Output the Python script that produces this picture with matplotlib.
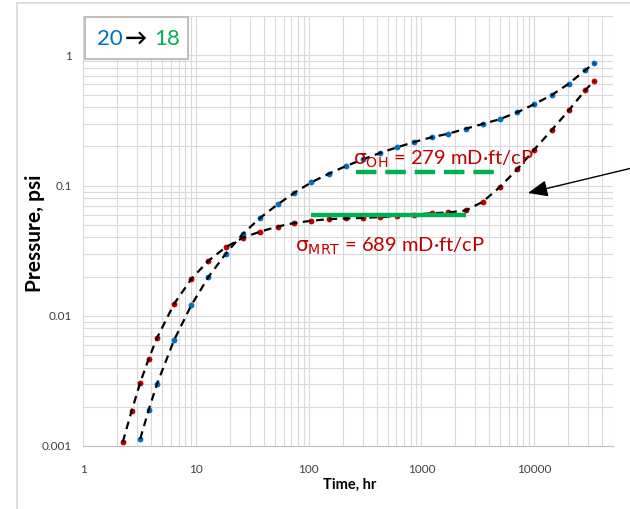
import matplotlib
matplotlib.use('Agg')
import matplotlib.pyplot as plt
from matplotlib.lines import Line2D
from matplotlib.patches import Rectangle
from matplotlib.ticker import FixedLocator, LogLocator, NullFormatter

plt.rcParams['font.family'] = ['Lato', 'DejaVu Sans']
plt.rcParams['mathtext.fontset'] = 'dejavusans'

# --- data (time in hr, pressure in psi) ---
t_red = [2.24, 2.69, 3.20, 3.80, 4.51, 6.38, 9.08, 12.9, 18.3, 26.0, 37.0, 52.9,
         74.7, 105, 150, 213, 301, 429, 607, 865, 1234, 1733, 2477, 3499, 4932,
         7096, 9980, 14330, 20280, 28470, 34210]
p_red = [0.001075, 0.00187, 0.00307, 0.00467, 0.00677, 0.01234, 0.0192, 0.0265,
         0.0336, 0.0398, 0.0443, 0.0485, 0.0517, 0.0537, 0.0553, 0.0560, 0.0565,
         0.0573, 0.0585, 0.0599, 0.0614, 0.0622, 0.0645, 0.0752, 0.0972, 0.1339,
         0.1887, 0.2678, 0.3795, 0.543, 0.640]

t_blue = [3.20, 3.80, 4.51, 6.38, 9.08, 12.9, 18.3, 26.0, 37.0, 52.9, 74.7, 105,
          150, 213, 301, 429, 607, 865, 1234, 1733, 2477, 3499, 4932, 7096, 9980,
          14330, 20280, 28470, 34210]
p_blue = [0.001135, 0.00189, 0.0030, 0.0065, 0.01206, 0.0199, 0.0299, 0.0426,
          0.0565, 0.0717, 0.0883, 0.1058, 0.1234, 0.1412, 0.159, 0.1783, 0.197,
          0.2166, 0.2353, 0.2507, 0.274, 0.2977, 0.3236, 0.3663, 0.4218, 0.497,
          0.607, 0.774, 0.871]

# derivative plateaus (green)
oh_t = [260, 5200]
oh_p = [0.127, 0.127]
mrt_t = [105, 2490]
mrt_p = [0.0596, 0.0596]

x_ticks = [1, 10, 100, 1000, 10000]
x_labels = ['1', '10', '100', '1000', '10000']
y_ticks = [0.001, 0.01, 0.1, 1]
y_labels = ['0.001', '0.01', '0.1', '1']

BLUE = '#0070C0'
RED = '#C00000'
GREEN = '#00B050'
GRID = '#d9d9d9'

fig = plt.figure(figsize=(6.3, 5.09), dpi=100)
H = 509.0
ax = fig.add_axes([83.3 / 630, (H - 446) / H, (613 - 83.3) / 630, (446 - 16) / H])
ax.set_xscale('log')
ax.set_yscale('log')
ax.set_xlim(1, 50000)
ax.set_ylim(0.001, 2.01)

# grid (major + minor)
ax.xaxis.set_major_locator(FixedLocator(x_ticks))
ax.yaxis.set_major_locator(FixedLocator(y_ticks))
ax.xaxis.set_minor_locator(LogLocator(base=10, subs=range(2, 10), numticks=20))
ax.yaxis.set_minor_locator(LogLocator(base=10, subs=range(2, 10), numticks=20))
ax.xaxis.set_minor_formatter(NullFormatter())
ax.yaxis.set_minor_formatter(NullFormatter())
ax.set_xticklabels(x_labels)
ax.set_yticklabels(y_labels)
ax.grid(True, which='both', color=GRID, lw=0.8, zorder=0)
ax.set_axisbelow(True)
ax.tick_params(which='both', length=0, labelsize=8.5, labelcolor='#404040')
ax.tick_params(axis='x', pad=13)
ax.tick_params(axis='y', pad=8)
for side in ['top', 'right', 'left']:
    ax.spines[side].set_visible(False)
ax.spines['bottom'].set_color('#bfbfbf')

# data points and dashed model curves
ax.plot(t_red, p_red, 'o', color=RED, ms=4.2, mec='none', zorder=3)
ax.plot(t_blue, p_blue, 'o', color=BLUE, ms=4.2, mec='none', zorder=3)
ax.plot(t_red, p_red, color='black', lw=1.6, dashes=(3.5, 2.5), zorder=4)
ax.plot(t_blue, p_blue, color='black', lw=1.6, dashes=(3.5, 2.5), zorder=4)

# green plateau lines
ax.plot(oh_t, oh_p, color=GREEN, lw=3.2, dashes=(4.6, 2.0), zorder=5)
ax.plot(mrt_t, mrt_p, color=GREEN, lw=3.2, solid_capstyle='butt', zorder=5)

ax.text(247, 0.144, r'$\mathrm{\sigma_{OH}}$ = 279 mD·ft/cP', color=RED,
        fontsize=14.5, va='baseline', ha='left', zorder=6)
ax.text(75.7, 0.031, r'$\mathrm{\sigma_{MRT}}$ = 689 mD·ft/cP', color=RED,
        fontsize=14.5, va='baseline', ha='left', zorder=6)

# axis titles
fig.text(35 / 630, 1 - 233 / H, 'Pressure, psi', rotation=90, fontsize=15,
         fontweight='bold', ha='center', va='center')
fig.text(350 / 630, 1 - 485 / H, 'Time, hr', fontsize=10.5, fontweight='bold',
         ha='center', va='center')

# outer chart frame (left and top edges visible)
fig.add_artist(Line2D([17 / 630, 17 / 630], [0, 1 - 3 / H], color=GRID, lw=1.2))
fig.add_artist(Line2D([17 / 630, 1], [1 - 3 / H, 1 - 3 / H], color=GRID, lw=1.2))

# "20 -> 18" box
fig.add_artist(Rectangle((85 / 630, 1 - 59 / H), 103 / 630, 42 / H,
                         transform=fig.transFigure, facecolor='white',
                         edgecolor='#bfbfbf', lw=1.5, zorder=10))
fig.text(97 / 630, 1 - 39 / H, '20', color=BLUE, fontsize=16, va='center',
         ha='left', zorder=11)
fig.text(135.5 / 630, 1 - 38 / H, '→', color='black', fontsize=16, va='center',
         ha='center', fontweight='bold', zorder=11)
fig.text(154 / 630, 1 - 39 / H, '18', color=GREEN, fontsize=16, va='center',
         ha='left', zorder=11)

# pointer arrow coming in from the right
ax.annotate('', xy=(528, H - 193), xycoords='figure pixels',
            xytext=(632, H - 168), textcoords='figure pixels',
            arrowprops=dict(arrowstyle='-|>,head_length=0.6,head_width=0.25',
                            color='black', lw=1.0, mutation_scale=20,
                            shrinkA=0, shrinkB=0),
            annotation_clip=False)

fig.savefig('out.png', dpi=100)
